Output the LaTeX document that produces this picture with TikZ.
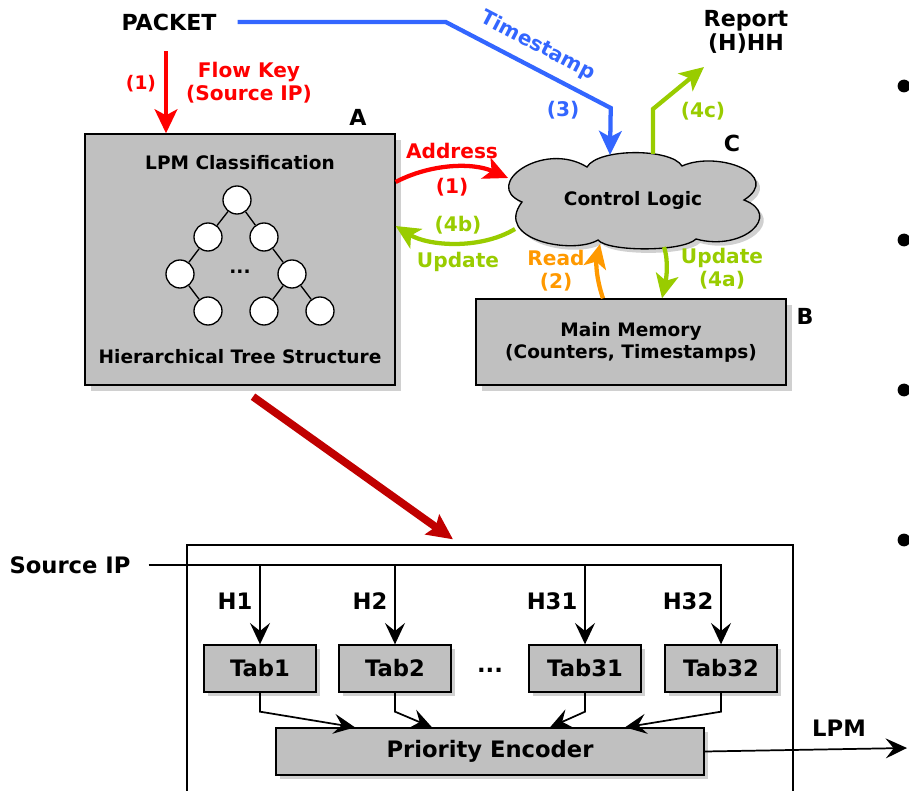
\documentclass[tikz,border=0pt]{standalone}
\usepackage{fontspec}
\setmainfont{DejaVu Sans}
\usetikzlibrary{arrows.meta,shadows,calc}
\definecolor{cRed}{HTML}{FF0000}
\definecolor{cBlue}{HTML}{3366FF}
\definecolor{cGreen}{HTML}{99CC00}
\definecolor{cOrange}{HTML}{FF9900}
\definecolor{cDark}{HTML}{C00000}
\definecolor{boxgray}{HTML}{C0C0C0}
\definecolor{shadegray}{HTML}{D0D0D0}
\newcommand\fbig{\fontsize{16.6}{18}\selectfont\bfseries}
\newcommand\flab{\fontsize{15.1}{17.3}\selectfont\bfseries}
\newcommand\fsmall{\fontsize{14}{15}\selectfont\bfseries}
\newcommand\fboxtxt{\fontsize{13.9}{16.5}\selectfont\bfseries}
\newcommand\fhw{\fontsize{17}{20}\selectfont\bfseries}
% outline of the control-logic cloud, relative to its centre
\newcommand\cloudoutline{(-111,2) .. controls (-152,-15) and (-90,-60) .. (-46,-33)
  .. controls (-35,-52) and (38,-52) .. (49,-34)
  .. controls (85,-50) and (150,-25) .. (111,0)
  .. controls (150,15) and (110,52) .. (63,39)
  .. controls (50,52) and (-25,52) .. (-35,40)
  .. controls (-60,55) and (-140,40) .. (-111,2) -- cycle}
\begin{document}
\begin{tikzpicture}[x=0.75pt,y=-0.75pt,
  txt/.style={inner sep=0pt, align=center},
  graybox/.style={draw=black, line width=1pt, fill=boxgray, inner sep=0pt},
  shade/.style={drop shadow={shadow xshift=#1, shadow yshift=-#1, fill=shadegray, opacity=1}},
  treenode/.style={circle, draw=black, line width=1pt, fill=white, minimum size=21pt, inner sep=0pt},
  bigtip/.style={-{Stealth[length=18pt,width=17pt,inset=4.5pt]}},
  redarr/.style={cRed, line width=3.2pt, bigtip},
  bluearr/.style={cBlue, line width=3.2pt, bigtip},
  greenarr/.style={cGreen, line width=3.2pt, bigtip},
  orangearr/.style={cOrange, line width=3.2pt, bigtip},
  thinarr/.style={black, line width=1.3pt, -{Stealth[length=16pt,width=15pt,inset=6pt]}}]
\clip (0,0) rectangle (909,791);

% ---------- upper part: classification, memory, control logic ----------
\node[txt, font=\fbig] (pkt) at (169,22) {PACKET};
\node[txt, font=\fbig] (rep) at (746,32) {Report\\(H)HH};

\node[graybox, shade=4.5pt, minimum width=232.5pt, minimum height=188.25pt] (lpm) at (240,259.5) {};
\node[txt, font=\fbig] (la) at (358,117) {A};
\node[txt, font=\fboxtxt] (lpmt) at (240,163) {LPM Classification};
\node[txt, font=\fboxtxt] (lpmb) at (240,357) {Hierarchical Tree Structure};

% tree
\node[treenode] (n0) at (237,200) {};
\node[treenode] (n1) at (208,237) {};
\node[treenode] (n2) at (264,237) {};
\node[treenode] (n3) at (180,274) {};
\node[treenode] (n4) at (292,274) {};
\node[treenode] (n5) at (208,311) {};
\node[treenode] (n6) at (264,311) {};
\node[treenode] (n7) at (320,311) {};
\node[txt, font=\fboxtxt] (dots) at (240,272) {...};
\draw[line width=1pt] (n0) -- (n1) (n0) -- (n2) (n1) -- (n3) (n2) -- (n4)
  (n3) -- (n5) (n4) -- (n6) (n4) -- (n7);

\node[graybox, shade=4.5pt, minimum width=232.5pt, minimum height=64.5pt] (mem) at (631,342) {};
\node[txt, font=\fboxtxt] (memt) at (631,342) {Main Memory\\(Counters, Timestamps)};
\node[txt, font=\fbig] (lb) at (805,316) {B};

% control-logic cloud with its shadow
\begin{scope}[shift={(637,204)}]
  \fill[shadegray] \cloudoutline;
\end{scope}
\begin{scope}[shift={(633,200)}]
  \draw[fill=boxgray, line width=1pt] \cloudoutline;
\end{scope}
\node[txt, font=\fboxtxt] (ctl) at (633,200) {Control Logic};
\node[txt, font=\fbig] (lc) at (732,143) {C};

% (1) flow key
\draw[redarr] ($(lpm.north)+(-74,-82)$) -- ($(lpm.north)+(-74,0)$);
\node[txt, font=\fsmall, text=cRed] (l1) at (141,84) {(1)};
\node[txt, font=\flab, text=cRed] (lfk) at (249,83) {Flow Key\\(Source IP)};

% (3) timestamp
\draw[bluearr, line join=miter] ($(pkt.east)+(21,0)$) -- ++(208,0) -- ++(165,86)
  -- ($(ctl.center)+(-23,-45)$);
\node[txt, font=\flab, text=cBlue, rotate=-27.5] (lts) at (538,46) {Timestamp};
\node[txt, font=\flab, text=cBlue] (l3) at (563,110) {(3)};

% (4c) report
\draw[greenarr, line join=miter] ($(ctl.center)+(20,-46)$) -- ++(0,-45)
  -- ($(rep.center)+(-42,35)$);
\node[txt, font=\flab, text=cGreen] (l4c) at (703,111) {(4c)};

% (1) address
\draw[redarr] ($(lpm.east)+(0,-77.5)$) .. controls (430,164) and (472,162) .. ($(ctl.center)+(-125,-22)$);
\node[txt, font=\flab, text=cRed] (ladr) at (452,151) {Address};
\node[txt, font=\flab, text=cRed] (l1b) at (452,187) {(1)};

% (4b) update
\draw[greenarr] ($(ctl.center)+(-118,29)$) .. controls (480,250) and (428,246) .. ($(lpm.east)+(0,-33.5)$);
\node[txt, font=\flab, text=cGreen] (l4b) at (458,225) {(4b)};
\node[txt, font=\flab, text=cGreen] (lupd) at (458,262) {Update};

% (2) read
\draw[orangearr] ($(mem.north)+(-28,0)$) .. controls (596,278) and (596,262) .. ($(ctl.center)+(-33,44)$);
\node[txt, font=\flab, text=cOrange] (lrd) at (556,271) {Read\\(2)};

% (4a) update
\draw[greenarr] ($(ctl.center)+(31,47)$) .. controls (669,262) and (666,280) .. ($(mem.north)+(31,0)$);
\node[txt, font=\flab, text=cGreen] (l4a) at (722,269) {Update\\(4a)};

% ---------- zoom-in arrow ----------
\node[draw=black, line width=1pt, minimum width=454.5pt, minimum height=191.25pt] (hw) at (490,672.5) {};
\draw[cDark, line width=5.8pt, -{Stealth[length=19pt,width=18pt,inset=3pt]}]
  ($(lpm.south)+(13,11)$) -- ($(hw.north)+(-37,-5)$);

% ---------- lower part: hash tables and encoder ----------
\node[txt, font=\fhw] (src) at (70,565) {Source IP};
\node[graybox, shade=3pt, minimum width=84pt, minimum height=35.25pt, font=\fhw] (t1) at (260,668.5) {Tab1};
\node[graybox, shade=3pt, minimum width=84pt, minimum height=35.25pt, font=\fhw] (t2) at (395,668.5) {Tab2};
\node[graybox, shade=3pt, minimum width=84pt, minimum height=35.25pt, font=\fhw] (t3) at (585,668.5) {Tab31};
\node[graybox, shade=3pt, minimum width=84pt, minimum height=35.25pt, font=\fhw] (t4) at (721,668.5) {Tab32};
\node[txt, font=\fhw] (tdots) at (490,670) {...};
\node[graybox, shade=3pt, minimum width=321pt, minimum height=35.25pt, font=\fhw] (pe) at (490,751.5) {Priority Encoder};

\draw[thinarr] ($(src.east)+(18,0)$) -| (t4.north);
\draw[thinarr] (t1.north |- src.east) -- (t1.north);
\draw[thinarr] (t2.north |- src.east) -- (t2.north);
\draw[thinarr] (t3.north |- src.east) -- (t3.north);

\node[txt, font=\fhw] (h1) at (235,601) {H1};
\node[txt, font=\fhw] (h2) at (370,601) {H2};
\node[txt, font=\fhw] (h3) at (552,601) {H31};
\node[txt, font=\fhw] (h4) at (688,601) {H32};

\draw[thinarr] (t1.south) -- ++(0,19) -- ($(pe.north)+(-135,0)$);
\draw[thinarr] (t2.south) -- ++(0,19) -- ($(pe.north)+(-58,0)$);
\draw[thinarr] (t3.south) -- ++(0,19) -- ($(pe.north)+(60,0)$);
\draw[thinarr] (t4.south) -- ++(0,19) -- ($(pe.north)+(135,0)$);

\coordinate (lpmout) at (907,748);
\draw[thinarr] (pe.east) -- (lpmout);
\node[txt, font=\fhw] (llpm) at (839,728) {LPM};

% ---------- bullet marks at the right edge ----------
\foreach \by in {86,240,390,540} \fill[black] (904,\by) circle (4.8pt);
\end{tikzpicture}
\end{document}
